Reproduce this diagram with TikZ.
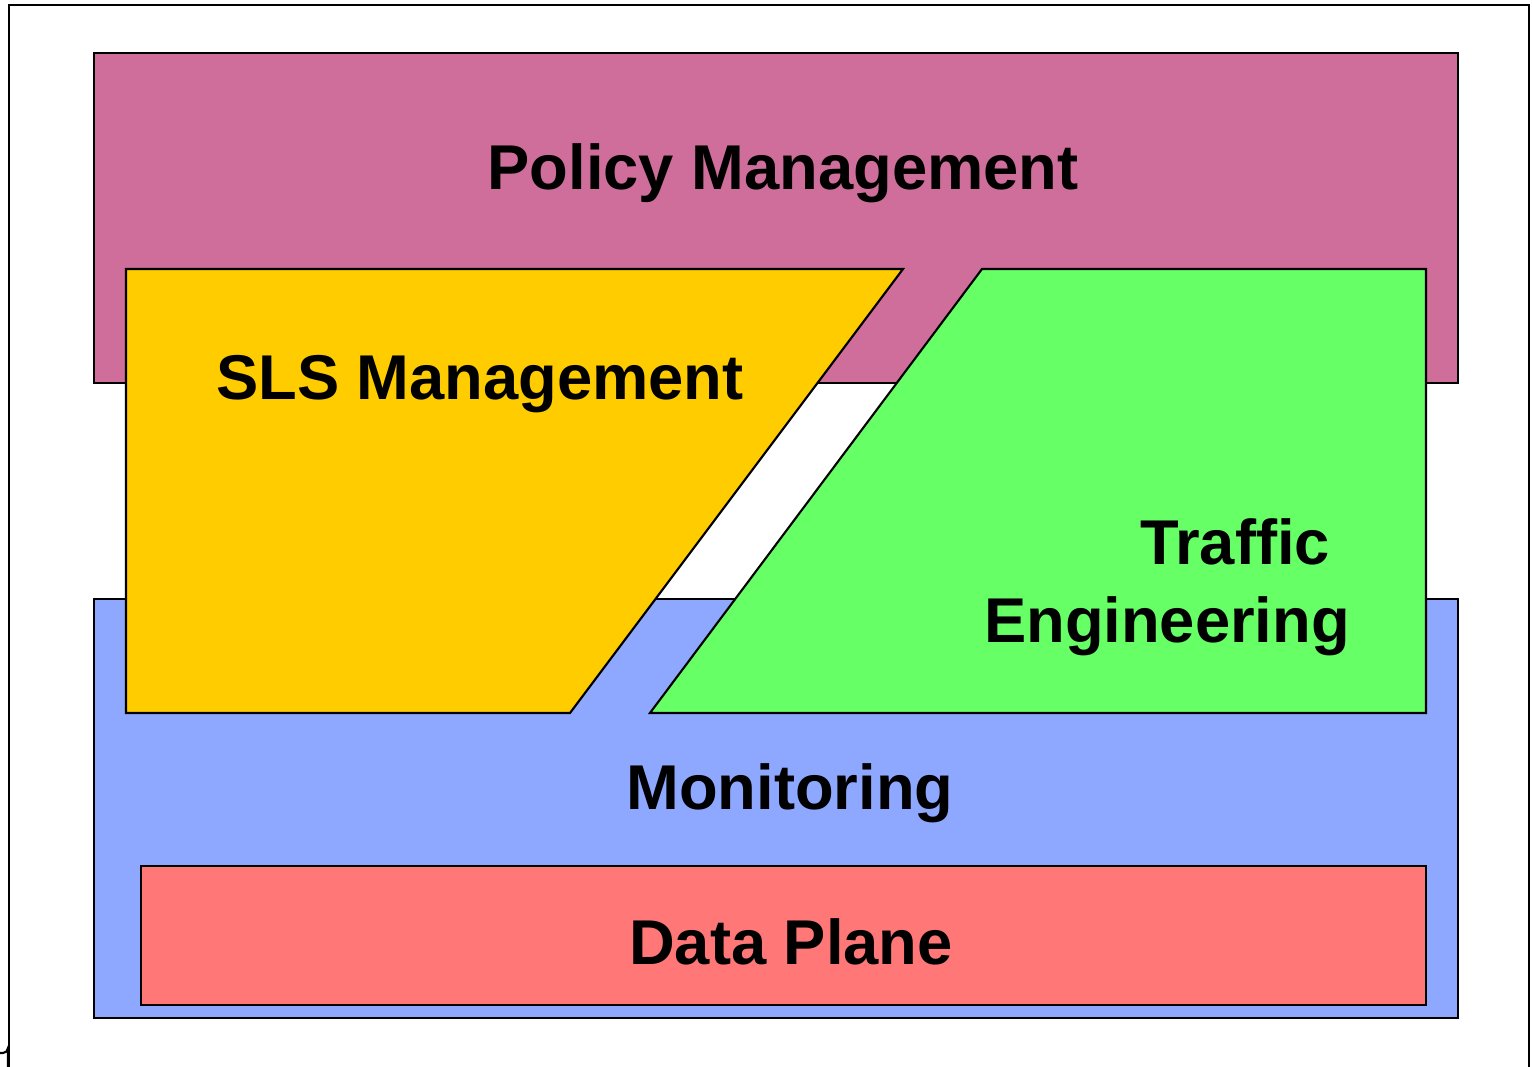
\documentclass[tikz,border=0pt]{standalone}
\usepackage{fontspec}
\setmainfont{Liberation Sans}
\usepackage{tikz}

\definecolor{policycol}{HTML}{CF6D9B}
\definecolor{monitorcol}{HTML}{8EA8FF}
\definecolor{datacol}{HTML}{FF7777}
\definecolor{slscol}{HTML}{FFCC00}
\definecolor{tecol}{HTML}{66FF66}

\begin{document}
\begin{tikzpicture}[x=0.01cm, y=-0.01cm, line width=0.6pt,
    layer/.style={draw=black, line join=miter},
    lbl/.style={anchor=base, inner sep=0pt, font=\fontsize{18}{22}\selectfont\bfseries}]
    \useasboundingbox (0, 0) rectangle (1532, 1067);

    % draw outer frame
    \draw (9, 1067) -- (9, 5) -- (1529, 5) -- (1529, 1067);
    \draw (0, 1053) -- (3, 1053) arc [radius = 5, start angle = 90, end angle = 0] -- (8, 1067);

    % draw back layers
    \filldraw[layer, fill=policycol]  (94, 53) -- (1458, 53) -- (1458, 383) -- (94, 383) -- cycle;
    \filldraw[layer, fill=monitorcol] (94, 599) -- (1458, 599) -- (1458, 1018) -- (94, 1018) -- cycle;
    \filldraw[layer, fill=datacol]    (141, 866) -- (1426, 866) -- (1426, 1005) -- (141, 1005) -- cycle;

    % draw slanted blocks
    \filldraw[layer, fill=slscol] (126, 269) -- (903, 269) -- (570, 713) -- (126, 713) -- cycle;
    \filldraw[layer, fill=tecol]  (982, 269) -- (1426, 269) -- (1426, 713) -- (650, 713) -- cycle;

    % draw labels
    \node[lbl] (policy)  at (783, 190)  {Policy Management};
    \node[lbl] (sls)     at (480, 400)  {SLS Management};
    \node[lbl] (traffic) at (1235, 565) {Traffic};
    \node[lbl] (engin)   at (1167, 643) {Engineering};
    \node[lbl] (monitor) at (790, 810)  {Monitoring};
    \node[lbl] (data)    at (791, 965)  {Data Plane};

\end{tikzpicture}
\end{document}
